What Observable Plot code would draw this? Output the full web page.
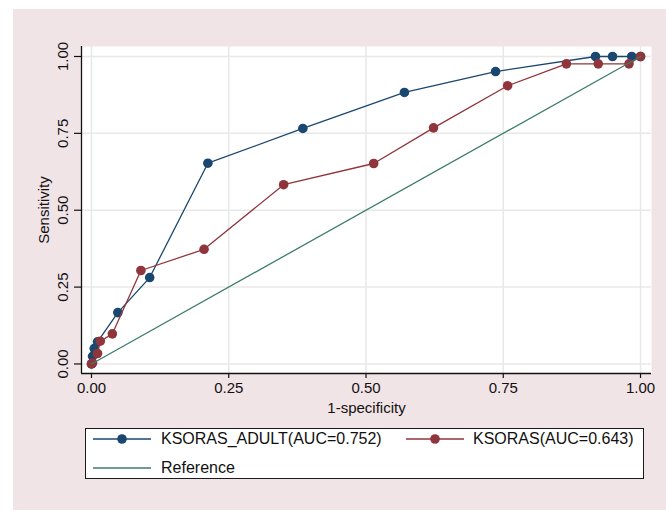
<!DOCTYPE html>
<html>
<head>
<meta charset="utf-8">
<script src="https://cdn.jsdelivr.net/npm/d3@7"></script>
<script src="https://cdn.jsdelivr.net/npm/@observablehq/plot@0.6"></script>
<style>
  body { margin: 0; background: #fff; font-family: "Liberation Sans", Arial, sans-serif; }
  #wrap { position: relative; width: 666px; height: 511px; overflow: hidden; }
  #bg { position: absolute; left: 13px; top: 9px; width: 653px; height: 501px; background: #f1e4e7; }
  #chart { position: absolute; left: 0; top: 0; }
  #legend { position: absolute; left: 85px; top: 428px; width: 557px; height: 49px; background: #fff; border: 1px solid #1a1a1a; }
  .sw { position: absolute; }
  .lt { position: absolute; font-size: 16px; color: #111; white-space: nowrap; line-height: 18px; }
</style>
</head>
<body>
<div id="wrap">
  <div id="bg"></div>
  <div id="chart"></div>
  <div id="legend"></div>
</div>
<script>
// ---- data (1-specificity, sensitivity) ----
const adultX = [0, 0.002, 0.005, 0.011, 0.048, 0.106, 0.212, 0.385, 0.570, 0.736, 0.918, 0.949, 0.984, 1];
const adultY = [0, 0.025, 0.050, 0.072, 0.167, 0.281, 0.653, 0.766, 0.883, 0.951, 1, 1, 1, 1];
const ksorasX = [0, 0.002, 0.011, 0.016, 0.038, 0.090, 0.205, 0.350, 0.514, 0.623, 0.758, 0.865, 0.923, 0.979, 1];
const ksorasY = [0, 0.003, 0.034, 0.074, 0.098, 0.304, 0.373, 0.583, 0.652, 0.768, 0.905, 0.976, 0.976, 0.976, 1];
const refX = [0, 1];
const refY = [0, 1];
const seriesNames = ["KSORAS_ADULT(AUC=0.752)", "KSORAS(AUC=0.643)", "Reference"];
const ticks = [0, 0.25, 0.5, 0.75, 1];
const xTitle = "1-specificity";
const yTitle = "Sensitivity";

const colors = ["#1a476f", "#90353b", "#3d7c6c"];

const adult = adultX.map((x, i) => ({x, y: adultY[i]}));
const ksoras = ksorasX.map((x, i) => ({x, y: ksorasY[i]}));
const ref = refX.map((x, i) => ({x, y: refY[i]}));

const xDom = [-0.0182, 1.02];
const yDom = [-0.031, 1.0325];
const fmt = d3.format(".2f");
const font = "Liberation Sans, Arial, sans-serif";

const chart = Plot.plot({
  width: 666, height: 420,
  marginLeft: 81, marginRight: 15, marginTop: 46, marginBottom: 47,
  style: {background: "transparent", fontFamily: font, fontSize: "15px", color: "#111"},
  x: {domain: xDom, axis: null},
  y: {domain: yDom, axis: null},
  marks: [
    Plot.frame({fill: "white", stroke: null}),
    Plot.gridX(ticks, {stroke: "#e8e8e8", strokeOpacity: 1, strokeWidth: 1.5}),
    Plot.gridY(ticks, {stroke: "#e8e8e8", strokeOpacity: 1, strokeWidth: 1.5}),
    Plot.axisX(ticks, {tickSize: 5, tickPadding: 4, tickFormat: fmt, fontSize: 15, stroke: "#111", strokeWidth: 1.2, label: null}),
    Plot.axisY(ticks, {tickSize: 7, tickFormat: () => "", stroke: "#111", strokeWidth: 1.2, label: null}),
    Plot.text(ticks, {y: d => d, frameAnchor: "left", dx: -18, rotate: -90, text: fmt, textAnchor: "middle", lineAnchor: "middle", fontSize: 15, fill: "#111"}),
    Plot.ruleX([xDom[0]], {stroke: "#111", strokeWidth: 1.3}),
    Plot.ruleY([yDom[0]], {stroke: "#111", strokeWidth: 1.3}),
    Plot.text([yTitle], {frameAnchor: "left", dx: -37, rotate: -90, textAnchor: "middle", lineAnchor: "middle", fontSize: 15, fill: "#111"}),
    Plot.text([xTitle], {frameAnchor: "bottom", dy: 35, textAnchor: "middle", lineAnchor: "middle", fontSize: 15, fill: "#111"}),
    Plot.line(adult, {x: "x", y: "y", stroke: colors[0], strokeWidth: 1.3}),
    Plot.dot(adult, {x: "x", y: "y", r: 4.8, fill: colors[0], stroke: null}),
    Plot.line(ksoras, {x: "x", y: "y", stroke: colors[1], strokeWidth: 1.3}),
    Plot.dot(ksoras, {x: "x", y: "y", r: 4.8, fill: colors[1], stroke: null}),
    Plot.line(ref, {x: "x", y: "y", stroke: colors[2], strokeWidth: 1.3})
  ]
});
document.getElementById("chart").appendChild(chart);

// legend
const leg = document.getElementById("legend");
const items = [
  {name: seriesNames[0], color: colors[0], dot: true, left: 7, top: 10, tx: 75},
  {name: seriesNames[1], color: colors[1], dot: true, left: 320, top: 10, tx: 387},
  {name: seriesNames[2], color: colors[2], dot: false, left: 7, top: 39, tx: 75}
];
items.forEach(it => {
  const w = 58;
  const svg = d3.create("svg").attr("class", "sw").attr("width", w).attr("height", 12)
    .style("left", it.left + "px").style("top", (it.top - 6) + "px");
  svg.append("line").attr("x1", 0).attr("x2", w).attr("y1", 6).attr("y2", 6)
    .attr("stroke", it.color).attr("stroke-width", 1.3);
  if (it.dot) svg.append("circle").attr("cx", w / 2).attr("cy", 6).attr("r", 4.8).attr("fill", it.color);
  leg.appendChild(svg.node());
  const t = document.createElement("div");
  t.className = "lt";
  t.textContent = it.name;
  t.style.left = it.tx + "px";
  t.style.top = (it.top - 9) + "px";
  leg.appendChild(t);
});
</script>
</body>
</html>
